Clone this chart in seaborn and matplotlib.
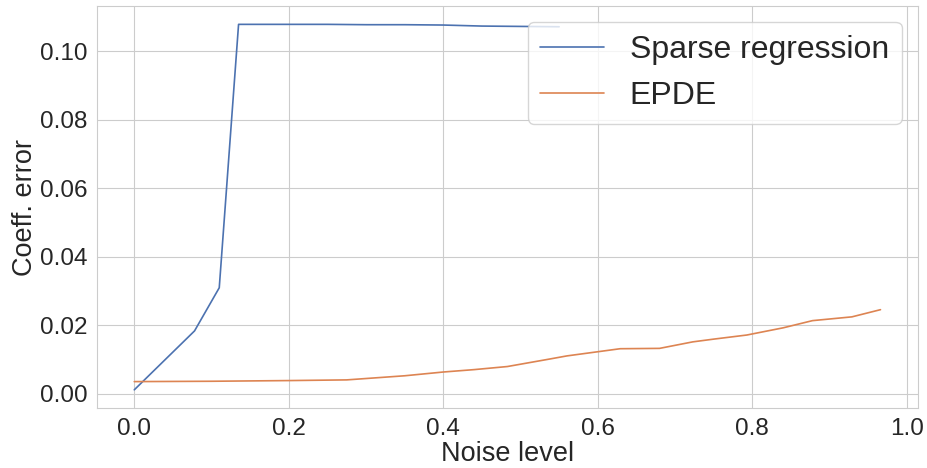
import numpy as np
import pandas as pd
import matplotlib
matplotlib.use("Agg")
import matplotlib.pyplot as plt
import seaborn as sns

sparse_x = [0.0, 0.078, 0.11, 0.135, 0.2, 0.25, 0.3, 0.35, 0.4, 0.45, 0.5, 0.55]
sparse_y = [0.0012, 0.0184, 0.031, 0.1079, 0.1079, 0.1079, 0.1078, 0.1078, 0.1077, 0.1074, 0.1073, 0.1072]

epde_x = [0.0, 0.1, 0.2, 0.275, 0.35, 0.40, 0.44, 0.483, 0.538, 0.56, 0.629, 0.68,
          0.723, 0.75, 0.793, 0.84, 0.878, 0.929, 0.966]
epde_y = [0.0036, 0.0037, 0.0039, 0.0041, 0.0053, 0.0064, 0.0071, 0.0080, 0.0102, 0.0111,
          0.0132, 0.0133, 0.0152, 0.0160, 0.0172, 0.0193, 0.0214, 0.0225, 0.0246]

labels = ["Sparse regression", "EPDE"]

df = pd.concat([
    pd.DataFrame({"Noise level": sparse_x, "Coeff. error": sparse_y, "method": labels[0]}),
    pd.DataFrame({"Noise level": epde_x, "Coeff. error": epde_y, "method": labels[1]}),
])

sns.set_style("whitegrid")
plt.rcParams["font.family"] = ["Liberation Sans", "DejaVu Sans"]

fig, ax = plt.subplots(figsize=(9.28, 4.68), dpi=100)
fig.subplots_adjust(left=0.1045, right=0.989, top=0.987, bottom=0.128)

sns.lineplot(data=df, x="Noise level", y="Coeff. error", hue="method",
             palette=sns.color_palette("deep", 2), linewidth=1.2, ax=ax)

ax.set_xlabel("Noise level", fontsize=19.5, labelpad=1)
ax.set_ylabel("Coeff. error", fontsize=19.5, labelpad=1)
ax.tick_params(labelsize=17.5)
ax.set_xticks([0.0, 0.2, 0.4, 0.6, 0.8, 1.0])
ax.set_yticks([0.00, 0.02, 0.04, 0.06, 0.08, 0.10])
ax.yaxis.set_major_formatter(matplotlib.ticker.FormatStrFormatter("%.2f"))
ax.xaxis.set_major_formatter(matplotlib.ticker.FormatStrFormatter("%.1f"))

leg = ax.legend(loc="upper right", fontsize=23, title=None)

fig.savefig("out.png", dpi=100)
